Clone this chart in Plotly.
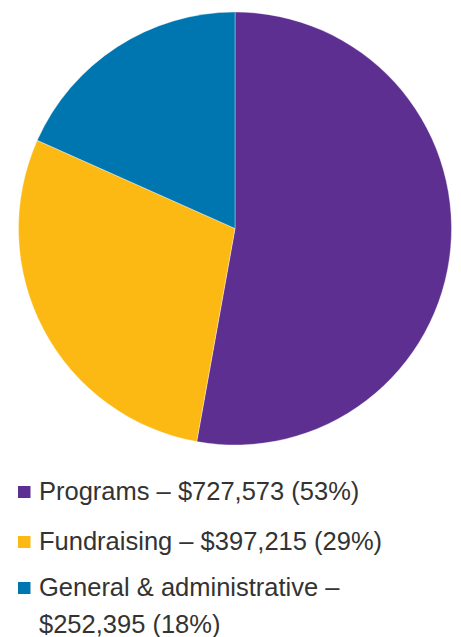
import plotly.graph_objects as go

labels = ["Programs", "Fundraising", "General & administrative"]
values = [727573, 397215, 252395]
percents = [53, 29, 18]
colors = ["#5C2F91", "#FDB913", "#0076B0"]

W, H = 461, 637
fig = go.Figure()
fig.add_trace(go.Pie(
    labels=labels, values=values, sort=False, direction="clockwise", rotation=0,
    marker=dict(colors=colors, line=dict(color="rgba(255,255,255,0.6)", width=0.6)),
    textinfo="none", hoverinfo="label+value+percent", showlegend=False,
    domain=dict(x=[18 / W, 452 / W], y=[1 - 445 / H, 1 - 12 / H]),
))

font = dict(family="Liberation Sans, Arial, sans-serif", size=25.5, color="#333333")
row_y = [491, 541, 587]
line_gap = 37
annotations = []
shapes = []
for i, (lab, val, pct) in enumerate(zip(labels, values, percents)):
    full = f"{lab} – ${val:,} ({pct}%)"
    if len(full) > 32:
        lines = [f"{lab} –", f"${val:,} ({pct}%)"]
    else:
        lines = [full]
    for j, ln in enumerate(lines):
        yy = row_y[i] + j * line_gap
        annotations.append(dict(
            x=40 / W, y=1 - yy / H, xref="paper", yref="paper", text=ln,
            showarrow=False, xanchor="left", yanchor="middle", font=font,
            xshift=-3,
        ))
    cy = row_y[i] + 1
    shapes.append(dict(
        type="rect", xref="paper", yref="paper",
        x0=18 / W, x1=30.5 / W, y0=1 - (cy - 6) / H, y1=1 - (cy + 6) / H,
        fillcolor=colors[i], line=dict(width=0),
    ))

fig.update_layout(
    width=W, height=H, margin=dict(l=0, r=0, t=0, b=0),
    paper_bgcolor="white", plot_bgcolor="white",
    annotations=annotations, shapes=shapes,
)
fig.write_html(
    "out.html",
    config={"displayModeBar": False},
    post_script="document.body.style.margin='0';document.body.style.overflow='hidden';",
)
